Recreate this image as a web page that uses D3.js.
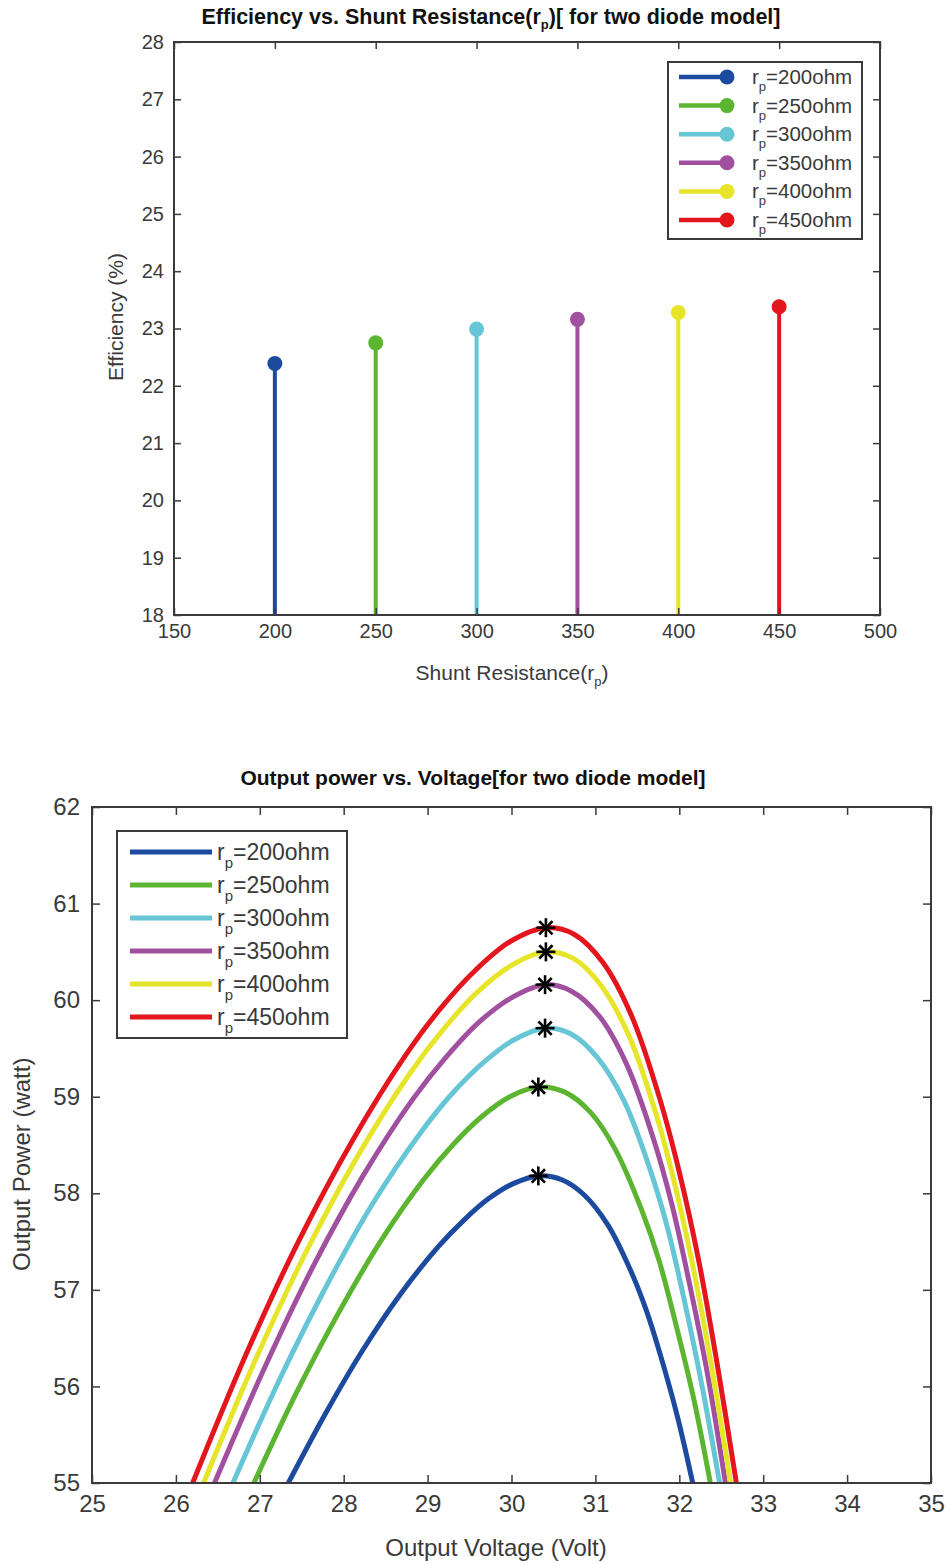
<!DOCTYPE html>
<html>
<head>
<meta charset="utf-8">
<script src="https://cdn.jsdelivr.net/npm/d3@7"></script>
<style>
  html, body { margin: 0; padding: 0; background: #fff; }
  svg { display: block; font-family: "Liberation Sans", Arial, Helvetica, sans-serif; }
</style>
</head>
<body>
<svg id="fig" width="950" height="1564"></svg>
<script>
// ---------- data ----------
const seriesNames = ["200ohm", "250ohm", "300ohm", "350ohm", "400ohm", "450ohm"];
const seriesColors = ["#1c4a9e", "#5cb531", "#66c6d6", "#a1509f", "#e6e52a", "#e3161d"];

// efficiency vs. shunt resistance
const shuntResistance = [200, 250, 300, 350, 400, 450];
const efficiency = [22.39, 22.75, 22.99, 23.16, 23.28, 23.38];
const effTicksX = [150, 200, 250, 300, 350, 400, 450, 500];
const effTicksY = [18, 19, 20, 21, 22, 23, 24, 25, 26, 27, 28];

// output power vs. voltage, one [V, P] list per shunt resistance
const pv200 = [[27.34,55.0],[27.79,55.73],[28.23,56.38],[28.68,56.96],[29.13,57.45],[29.43,57.72],[29.72,57.94],[30.02,58.10],[30.32,58.18],[30.60,58.14],[30.87,57.98],[31.15,57.67],[31.42,57.20],[31.61,56.78],[31.79,56.28],[31.98,55.68],[32.16,55.0]];
const pv250 = [[26.93,55.0],[27.44,55.94],[27.95,56.78],[28.46,57.53],[28.96,58.15],[29.30,58.50],[29.64,58.79],[29.98,59.00],[30.32,59.10],[30.63,59.05],[30.94,58.84],[31.24,58.45],[31.55,57.83],[31.76,57.30],[31.96,56.64],[32.17,55.88],[32.37,55.0]];
const pv300 = [[26.68,55.0],[27.24,56.08],[27.80,57.05],[28.35,57.90],[28.91,58.62],[29.28,59.02],[29.66,59.35],[30.03,59.59],[30.40,59.71],[30.71,59.65],[31.02,59.41],[31.34,58.96],[31.65,58.25],[31.86,57.64],[32.06,56.89],[32.27,56.01],[32.48,55.0]];
const pv350 = [[26.46,55.0],[27.05,56.18],[27.64,57.25],[28.23,58.18],[28.82,58.97],[29.22,59.41],[29.61,59.77],[30.01,60.03],[30.40,60.16],[30.72,60.09],[31.05,59.83],[31.37,59.34],[31.69,58.57],[31.91,57.89],[32.12,57.07],[32.34,56.11],[32.55,55.0]];
const pv400 = [[26.33,55.0],[26.94,56.26],[27.55,57.39],[28.17,58.39],[28.78,59.23],[29.19,59.70],[29.59,60.08],[30.00,60.36],[30.41,60.50],[30.74,60.43],[31.07,60.15],[31.40,59.63],[31.73,58.80],[31.95,58.08],[32.17,57.21],[32.39,56.18],[32.61,55.0]];
const pv450 = [[26.20,55.0],[26.83,56.32],[27.46,57.50],[28.10,58.54],[28.73,59.42],[29.15,59.91],[29.57,60.31],[29.99,60.61],[30.41,60.75],[30.75,60.68],[31.09,60.39],[31.43,59.84],[31.77,58.97],[32.00,58.22],[32.23,57.31],[32.45,56.24],[32.68,55.0]];
const pvCurves = [pv200, pv250, pv300, pv350, pv400, pv450];

// maximum power points
const mppVoltage = [30.32, 30.32, 30.40, 30.40, 30.41, 30.41];
const mppPower = [58.18, 59.10, 59.71, 60.16, 60.50, 60.75];
const pvTicksX = [25, 26, 27, 28, 29, 30, 31, 32, 33, 34, 35];
const pvTicksY = [55, 56, 57, 58, 59, 60, 61, 62];

const svg = d3.select("#fig");
const axisColor = "#3a3a3a";
const textColor = "#3a3a3a";

// draws a MATLAB-style box with inward ticks on all four sides
function drawBox(g, x, y, tx, ty, tickLen, fontSize, labelGapY, labelGapX) {
  const [x0, x1] = x.range();
  const [y0, y1] = y.range(); // y0 bottom, y1 top
  g.append("g").attr("transform", `translate(0,${y0})`)
    .call(d3.axisBottom(x).tickValues(tx).tickSize(-tickLen).tickPadding(labelGapX).tickFormat(d3.format("d")))
    .call(a => a.select(".domain").remove())
    .call(a => a.selectAll("text").attr("font-size", fontSize).attr("fill", textColor).attr("font-family", null))
    .call(a => a.selectAll("line").attr("stroke", axisColor).attr("stroke-width", 1.5));
  g.append("g").attr("transform", `translate(0,${y1})`)
    .call(d3.axisTop(x).tickValues(tx).tickSize(-tickLen).tickFormat(""))
    .call(a => a.select(".domain").remove())
    .call(a => a.selectAll("line").attr("stroke", axisColor).attr("stroke-width", 1.5));
  g.append("g").attr("transform", `translate(${x0},0)`)
    .call(d3.axisLeft(y).tickValues(ty).tickSize(-tickLen).tickPadding(labelGapY).tickFormat(d3.format("d")))
    .call(a => a.select(".domain").remove())
    .call(a => a.selectAll("text").attr("font-size", fontSize).attr("fill", textColor).attr("font-family", null))
    .call(a => a.selectAll("line").attr("stroke", axisColor).attr("stroke-width", 1.5));
  g.append("g").attr("transform", `translate(${x1},0)`)
    .call(d3.axisRight(y).tickValues(ty).tickSize(-tickLen).tickFormat(""))
    .call(a => a.select(".domain").remove())
    .call(a => a.selectAll("line").attr("stroke", axisColor).attr("stroke-width", 1.5));
  g.append("rect")
    .attr("x", x0).attr("y", y1)
    .attr("width", x1 - x0).attr("height", y0 - y1)
    .attr("fill", "none").attr("stroke", axisColor).attr("stroke-width", 2);
}

// label of the form r_p=XXXohm
function rpLabel(sel, name, subSize, subDy) {
  sel.append("tspan").text("r");
  sel.append("tspan").attr("font-size", subSize).attr("dy", subDy).text("p");
  sel.append("tspan").attr("dy", -subDy).text("=" + name);
}

// ---------- chart 1: efficiency stem plot ----------
{
  const x = d3.scaleLinear().domain([150, 500]).range([174, 880]);
  const y = d3.scaleLinear().domain([18, 28]).range([615, 42]);
  const g = svg.append("g");

  // stems
  g.selectAll("line.stem").data(shuntResistance).join("line")
    .attr("class", "stem")
    .attr("x1", d => x(d)).attr("x2", d => x(d))
    .attr("y1", y(18)).attr("y2", (d, i) => y(efficiency[i]))
    .attr("stroke", (d, i) => seriesColors[i]).attr("stroke-width", 4);
  g.selectAll("circle.head").data(shuntResistance).join("circle")
    .attr("class", "head")
    .attr("cx", d => x(d)).attr("cy", (d, i) => y(efficiency[i]))
    .attr("r", 7.5)
    .attr("fill", (d, i) => seriesColors[i]);

  drawBox(g, x, y, effTicksX, effTicksY, 7, 20, 10, 9);

  // title
  const t = g.append("text").attr("x", 491).attr("y", 24)
    .attr("text-anchor", "middle").attr("font-size", 21.5).attr("font-weight", "bold").attr("fill", "#111");
  t.append("tspan").text("Efficiency vs. Shunt Resistance(r");
  t.append("tspan").attr("font-size", 13).attr("dy", 5).text("p");
  t.append("tspan").attr("dy", -5).text(")[ for two diode model]");

  // axis labels
  const xl = g.append("text").attr("x", 512).attr("y", 680)
    .attr("text-anchor", "middle").attr("font-size", 21).attr("fill", textColor);
  xl.append("tspan").text("Shunt Resistance(r");
  xl.append("tspan").attr("font-size", 13).attr("dy", 6).text("p");
  xl.append("tspan").attr("dy", -6).text(")");

  g.append("text").attr("transform", `translate(123,${y(23.2)}) rotate(-90)`)
    .attr("text-anchor", "middle").attr("font-size", 21).attr("fill", textColor)
    .text("Efficiency (%)");

  // legend
  const lg = g.append("g");
  lg.append("rect").attr("x", 668).attr("y", 62).attr("width", 194).attr("height", 177)
    .attr("fill", "#fff").attr("stroke", axisColor).attr("stroke-width", 2);
  seriesNames.forEach((name, i) => {
    const cy = 77 + i * 28.6;
    lg.append("line").attr("x1", 679).attr("x2", 727).attr("y1", cy).attr("y2", cy)
      .attr("stroke", seriesColors[i]).attr("stroke-width", 4.5);
    lg.append("circle").attr("cx", 727).attr("cy", cy).attr("r", 7.5).attr("fill", seriesColors[i]);
    const tx = lg.append("text").attr("x", 752).attr("y", cy + 7)
      .attr("font-size", 20.5).attr("fill", textColor);
    rpLabel(tx, name, 13, 7);
  });
}

// ---------- chart 2: output power vs. voltage ----------
{
  const x = d3.scaleLinear().domain([25, 35]).range([92, 931]);
  const y = d3.scaleLinear().domain([55, 62]).range([1483, 807]);
  const g = svg.append("g");

  g.append("clipPath").attr("id", "pvclip").append("rect")
    .attr("x", 92).attr("y", 807).attr("width", 839).attr("height", 676);

  const line = d3.line().x(d => x(d[0])).y(d => y(d[1])).curve(d3.curveCatmullRom.alpha(0.5));
  g.append("g").attr("clip-path", "url(#pvclip)")
    .selectAll("path").data(pvCurves).join("path")
    .attr("d", line)
    .attr("fill", "none")
    .attr("stroke", (d, i) => seriesColors[i])
    .attr("stroke-width", 5)
    .attr("stroke-linejoin", "round");

  // maximum power point markers (asterisks)
  const star = g.append("g");
  mppVoltage.forEach((v, i) => {
    const s = star.append("g").attr("transform", `translate(${x(v)},${y(mppPower[i])})`);
    const r = 9.5;
    [[-r, 0, r, 0], [0, -r, 0, r], [-r * 0.7, -r * 0.7, r * 0.7, r * 0.7], [-r * 0.7, r * 0.7, r * 0.7, -r * 0.7]]
      .forEach(c => s.append("line").attr("x1", c[0]).attr("y1", c[1]).attr("x2", c[2]).attr("y2", c[3])
        .attr("stroke", "#000").attr("stroke-width", 2.6));
  });

  drawBox(g, x, y, pvTicksX, pvTicksY, 8, 24, 12, 12);

  g.append("text").attr("x", 473).attr("y", 785)
    .attr("text-anchor", "middle").attr("font-size", 21).attr("font-weight", "bold").attr("fill", "#111")
    .text("Output power vs. Voltage[for two diode model]");

  g.append("text").attr("x", 496).attr("y", 1556)
    .attr("text-anchor", "middle").attr("font-size", 24).attr("fill", textColor)
    .text("Output Voltage (Volt)");

  g.append("text").attr("transform", `translate(30,${y(58.3)}) rotate(-90)`)
    .attr("text-anchor", "middle").attr("font-size", 24).attr("fill", textColor)
    .text("Output Power (watt)");

  // legend
  const lg = g.append("g");
  lg.append("rect").attr("x", 117).attr("y", 831).attr("width", 230).attr("height", 207)
    .attr("fill", "#fff").attr("stroke", axisColor).attr("stroke-width", 2);
  seriesNames.forEach((name, i) => {
    const cy = 852 + i * 33;
    lg.append("line").attr("x1", 130).attr("x2", 212).attr("y1", cy).attr("y2", cy)
      .attr("stroke", seriesColors[i]).attr("stroke-width", 5);
    const tx = lg.append("text").attr("x", 217).attr("y", cy + 8)
      .attr("font-size", 23).attr("fill", textColor);
    rpLabel(tx, name, 15, 8);
  });
}
</script>
</body>
</html>
